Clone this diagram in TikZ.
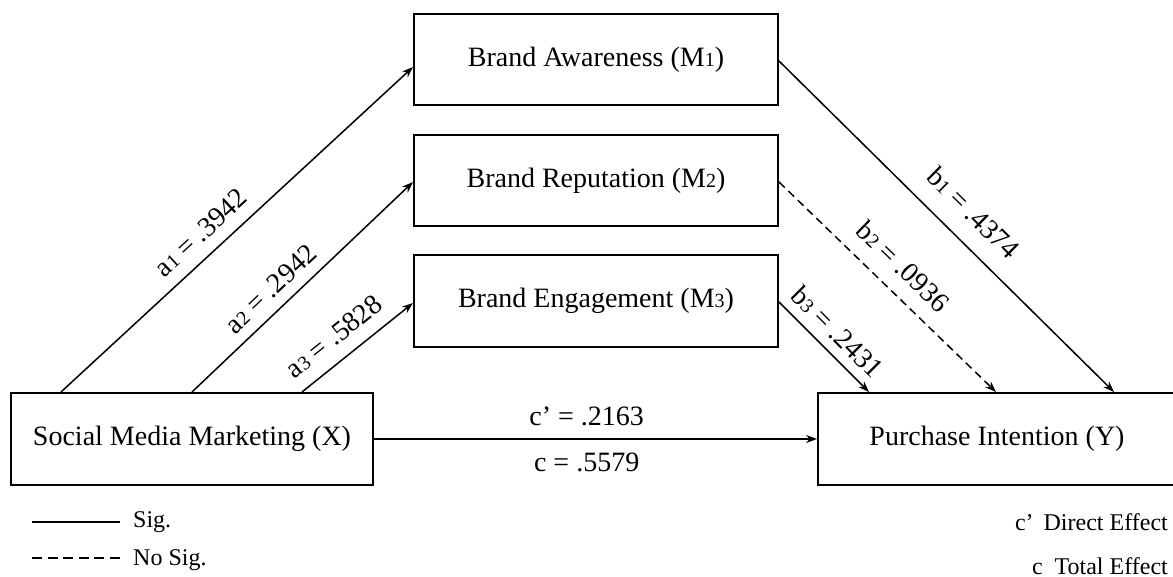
\documentclass[tikz,border=0pt]{standalone}
\usepackage{fontspec}
\setmainfont{Liberation Serif}
\usetikzlibrary{arrows.meta}
\newcommand{\lsub}[1]{{\fontsize{20}{20}\selectfont #1}}
\begin{document}
\begin{tikzpicture}[x=1pt,y=-1pt,
  box/.style={draw, line width=2pt, minimum width=364pt, minimum height=91pt, inner sep=0pt, font=\fontsize{28}{28}\selectfont},
  arr/.style={line width=1.5pt, -{Stealth[length=11pt,width=8pt]}},
  lab/.style={font=\fontsize{28}{28}\selectfont, inner sep=0pt, sloped},
  mid/.style={font=\fontsize{28}{28}\selectfont, inner sep=0pt},
  legend/.style={font=\fontsize{24}{24}\selectfont, inner sep=0pt},
  legline/.style={line width=1.5pt}]
\useasboundingbox (0,0) rectangle (1173,577);

\node[box] (aw) at (596,59.5) {Brand Awareness (M\lsub{1})};
\node[box] (rep) at (596,180.5) {Brand Reputation (M\lsub{2})};
\node[box, minimum height=92pt] (eng) at (596,301) {Brand Engagement (M\lsub{3})};
\node[box, minimum width=362pt, minimum height=92pt] (smm) at (192,439) {Social Media Marketing (X)};
\node[box, minimum width=358pt, minimum height=92pt] (pi) at (997,439) {Purchase Intention (Y)};

\draw[arr] ([xshift=51pt]smm.north west) -- node[lab, pos=0.44, above=12pt] {a\lsub{1} = .3942} ([yshift=-7.5pt]aw.west);
\draw[arr] ([xshift=182pt]smm.north west) -- node[lab, pos=0.42, above=10.5pt] {a\lsub{2} = .2942} ([yshift=-1.5pt]rep.west);
\draw[arr] ([xshift=292pt]smm.north west) -- node[lab, pos=0.42, above=13pt] {a\lsub{3} = .5828} ([yshift=-2pt]eng.west);

\draw[arr] ([yshift=-1.5pt]aw.east) -- node[lab, pos=0.52, above=18pt] {b\lsub{1} = .4374} ([xshift=297pt]pi.north west);
\draw[arr, dash pattern=on 8pt off 5pt] ([yshift=-1.5pt]rep.east) -- node[lab, pos=0.49, above=15pt] {b\lsub{2} = .0936} ([xshift=179pt]pi.north west);
\draw[arr] ([yshift=-1pt]eng.east) -- node[lab, pos=0.49, above=9.5pt] {b\lsub{3} = .2431} ([xshift=52pt]pi.north west);

\draw[arr] (smm) -- node[mid, pos=0.48, above=12pt] {c’ = .2163} node[mid, pos=0.48, below=13pt] {c = .5579} (pi);

\coordinate (s1) at (32,522);
\coordinate (s2) at (120,522);
\coordinate (n1) at (32,558);
\coordinate (n2) at (120,558);
\draw[legline] (s1) -- (s2);
\draw[legline, dash pattern=on 10pt off 5.5pt] (n1) -- (n2);
\node[legend, anchor=base west] (sig) at (133,527) {Sig.};
\node[legend, anchor=base west] (nsig) at (133,565) {No Sig.};
\node[legend, anchor=base east] (de) at (1168,530) {c’\hspace{10pt}Direct Effect};
\node[legend, anchor=base east] (te) at (1168,574) {c\hspace{6pt} Total Effect};
\end{tikzpicture}
\end{document}
